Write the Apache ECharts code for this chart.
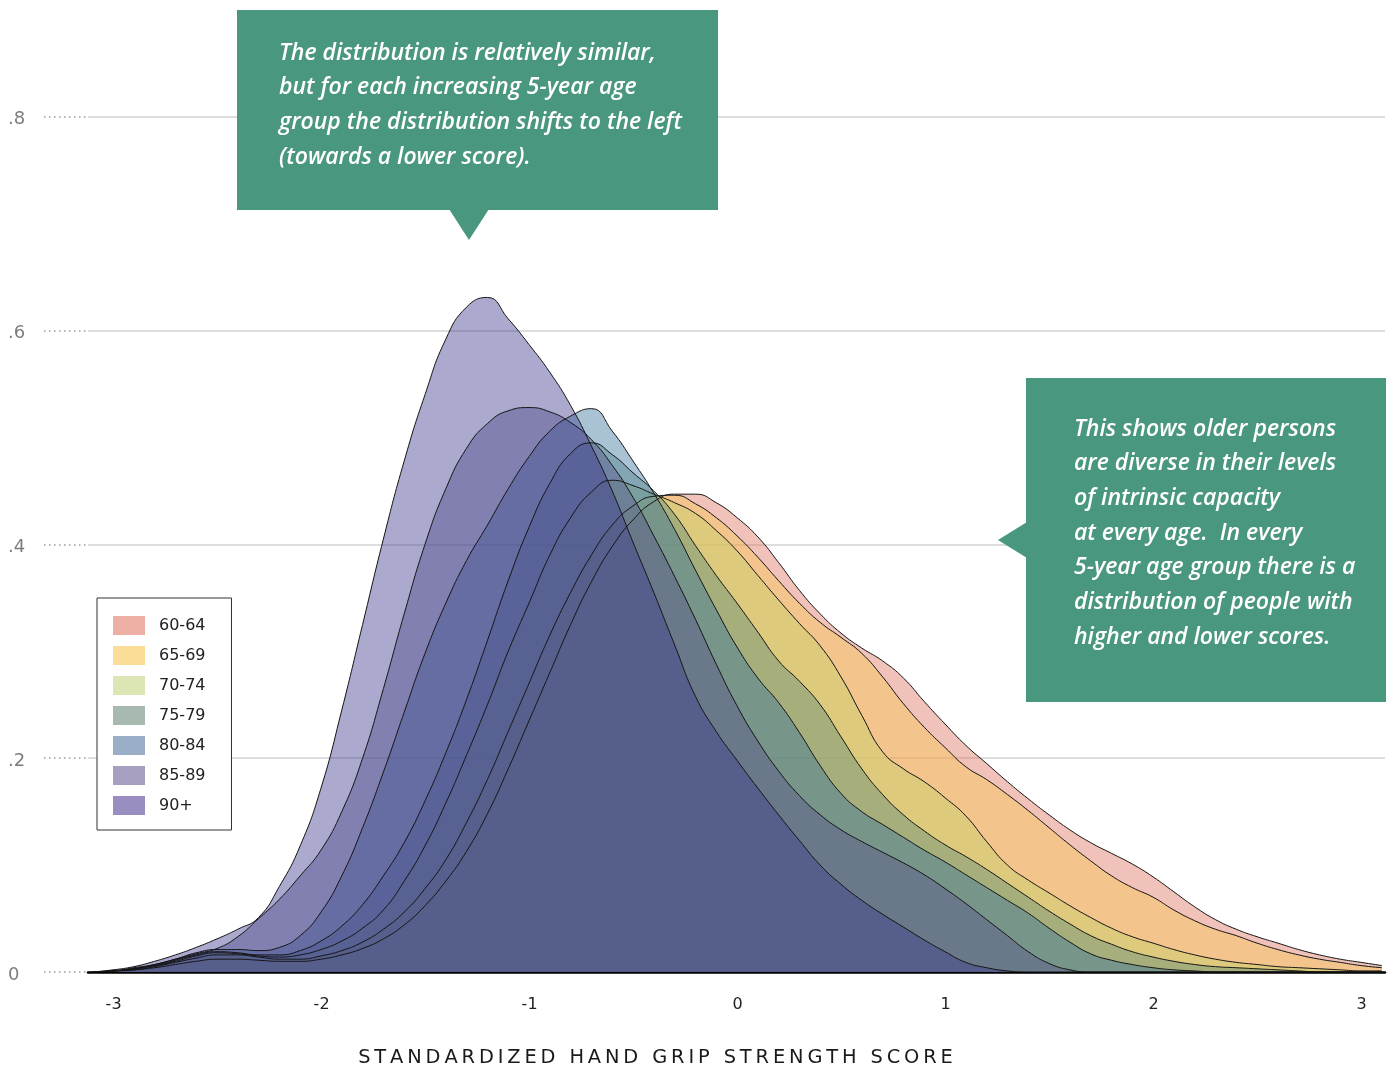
<!DOCTYPE html>
<html>
<head>
<meta charset="utf-8">
<script src="https://cdn.jsdelivr.net/npm/echarts@6/dist/echarts.min.js"></script>
<style>
html,body{margin:0;padding:0;background:#fff;}
#chart{width:1394px;height:1068px;}
</style>
</head>
<body>
<div id="chart"></div>
<script>
// ---- data ----
const scores = [-3.1,-3.0,-2.9,-2.8,-2.7,-2.6,-2.5,-2.4,-2.3,-2.2,-2.1,-2.0,-1.9,-1.8,-1.7,-1.6,-1.5,-1.4,-1.3,-1.2,-1.1,-1.0,-0.9,-0.8,-0.7,-0.6,-0.5,-0.4,-0.3,-0.2,-0.1,0.0,0.1,0.2,0.3,0.4,0.5,0.6,0.7,0.8,0.9,1.0,1.1,1.2,1.3,1.4,1.5,1.6,1.7,1.8,1.9,2.0,2.1,2.2,2.3,2.4,2.5,2.6,2.7,2.8,2.9,3.0,3.1];

const groups = ['60-64','65-69','70-74','75-79','80-84','85-89','90+'];

const age60_64 = [0,.001,.002,.004,.007,.010,.012,.012,.011,
  .010,.010,.012,.016,.022,.031,.044,.062,.085,.113,
  .148,.190,.235,.280,.325,.365,.398,.423,.440,.447,
  .447,.439,.425,.407,.383,.357,.335,.317,.303,.291,
  .275,.253,.232,.212,.195,.178,.162,.147,.133,.121,
  .111,.101,.089,.075,.061,.049,.040,.033,.027,.021,
  .016,.012,.009,.006];
const age65_69 = [0,.001,.002,.005,.009,.013,.016,.016,.014,
  .012,.012,.015,.020,.028,.040,.056,.078,.105,.140,
  .180,.225,.270,.315,.355,.390,.418,.436,.445,.446,
  .438,.425,.408,.388,.366,.345,.327,.313,.298,.276,
  .251,.229,.210,.192,.180,.166,.151,.135,.119,.104,
  .090,.079,.070,.058,.048,.040,.034,.027,.021,.016,
  .012,.009,.006,.004];
const age70_74 = [0,.001,.003,.006,.010,.015,.018,.017,.015,
  .014,.016,.021,.029,.041,.058,.085,.118,.158,.203,
  .250,.300,.345,.390,.425,.449,.460,.455,.447,.439,
  .429,.413,.394,.371,.348,.326,.305,.276,.240,.206,
  .190,.178,.163,.146,.122,.100,.086,.074,.062,.051,
  .041,.033,.027,.021,.016,.012,.009,.007,.005,.004,
  .003,.002,.001,.001];
const age75_79 = [0,.001,.003,.006,.011,.016,.019,.018,.016,
  .016,.020,.029,.043,.063,.090,.121,.160,.205,.255,
  .310,.366,.416,.457,.485,.495,.484,.467,.450,.428,
  .399,.371,.345,.318,.291,.272,.250,.220,.190,.166,
  .147,.132,.119,.108,.096,.083,.070,.057,.045,.034,
  .026,.019,.014,.010,.007,.005,.004,.003,.002,.001,
  0,0,0,0];
const age80_84 = [0,.001,.003,.007,.012,.018,.021,.021,.020,
  .023,.034,.056,.090,.135,.187,.243,.298,.345,.385,
  .418,.452,.482,.506,.520,.527,.506,.478,.448,.414,
  .376,.339,.304,.275,.252,.224,.193,.167,.150,.138,
  .126,.114,.103,.091,.079,.067,.055,.041,.028,.017,
  .011,.007,.004,.002,.001,0,0,0,0,0,
  0,0,0,0];
const age85_89 = [0,.001,.004,.007,.012,.017,.022,.033,.050,
  .068,.090,.114,.150,.200,.265,.335,.400,.452,.490,
  .513,.525,.528,.524,.514,.498,.474,.444,.408,.370,
  .330,.288,.249,.216,.188,.165,.147,.133,.122,.112,
  .102,.091,.078,.064,.049,.034,.019,.008,.002,0,
  0,0,0,0,0,0,0,0,0,0,
  0,0,0,0];
const age90plus = [0,.002,.005,.010,.016,.023,.031,.040,.051,
  .080,.118,.172,.245,.325,.405,.478,.540,.592,.622,
  .631,.611,.587,.561,.530,.492,.450,.402,.355,.306,
  .258,.225,.198,.172,.147,.123,.100,.082,.067,.054,
  .042,.030,.019,.009,.004,.001,0,0,0,0,
  0,0,0,0,0,0,0,0,0,0,
  0,0,0,0];

const xTickLabels = [-3,-2,-1,0,1,2,3];
const yTickLabels = ['0','.2','.4','.6','.8'];

const noteTop = ['The distribution is relatively similar,','but for each increasing 5-year age','group the distribution shifts to the left','(towards a lower score).'];
const noteRight = ['This shows older persons','are diverse in their levels','of intrinsic capacity','at every age.  In every','5-year age group there is a','distribution of people with','higher and lower scores.'];
const axisTitle = 'STANDARDIZED HAND GRIP STRENGTH SCORE';

// ---- styles ----
const densities = [age60_64, age65_69, age70_74, age75_79, age80_84, age85_89, age90plus];
const legendColors = ['#EEB0A5','#FCDD97','#DCE6B5','#A8BAB0','#9AAEC7','#A89FC0','#9A8DC2'];
const fillColors = ['#DC715E','#F9C74F','#C3D469','#5D887B','#3A749C','#5A568C','#3D398D'];
const BOX = '#4a977f';
const noteFont = {fill:'#ffffff', fontFamily:'"Open Sans"', fontSize:23, fontStyle:'italic', fontWeight:600, verticalAlign:'middle', align:'left'};

const chart = echarts.init(document.getElementById('chart'), null, {renderer:'canvas'});

const series = groups.map((g, i) => ({
  name: g,
  type: 'line',
  xAxisIndex: 1,
  yAxisIndex: 1,
  data: scores.map((x, j) => [x, densities[i][j]]),
  smooth: 0.5,
  symbol: 'none',
  showSymbol: false,
  itemStyle: {color: legendColors[i]},
  lineStyle: {color: '#151515', width: 1},
  areaStyle: {color: fillColors[i], opacity: 0.43},
  silent: true,
  z: 2
}));

const graphics = [];
graphics.push({type:'rect', z:100, shape:{x:237, y:10, width:481, height:200}, style:{fill:BOX}});
graphics.push({type:'polygon', z:100, shape:{points:[[449,209],[489,209],[469,240]]}, style:{fill:BOX}});
noteTop.forEach((t, i) => graphics.push({type:'text', z:101, x:279, y:53 + i*34.67, style:Object.assign({text:t}, noteFont)}));
graphics.push({type:'rect', z:100, shape:{x:1026, y:378, width:360, height:324}, style:{fill:BOX}});
graphics.push({type:'polygon', z:100, shape:{points:[[1027,522],[1027,558],[998,540]]}, style:{fill:BOX}});
noteRight.forEach((t, i) => graphics.push({type:'text', z:101, x:1074, y:429 + i*34.67, style:Object.assign({text:t}, noteFont)}));
graphics.push({type:'text', z:101, x:655.5, y:1058, style:{text: axisTitle.split('').join('\u2009'), fill:'#1a1a1a', fontFamily:'"DejaVu Sans"', fontSize:19.4, align:'center', verticalAlign:'middle'}});

const TOP = 116.8;
const option = {
  animation: false,
  backgroundColor: '#ffffff',
  grid: [
    {left:44, width:44, top:TOP, bottom:96},
    {left:88, right:9, top:TOP, bottom:96},
    {left:113.6, right:32.4, top:TOP, bottom:96},
    {left:44, width:44, top:TOP + 3, bottom:93}
  ],
  xAxis: [
    {gridIndex:0, type:'value', min:0, max:1, show:false},
    {gridIndex:1, type:'value', min:-3.12, max:3.115,
      axisLine:{show:true, onZero:true, lineStyle:{color:'#000', width:2.5}},
      axisTick:{show:false}, axisLabel:{show:false}, splitLine:{show:false}},
    {gridIndex:2, type:'value', min:-3, max:3, interval:1,
      axisLine:{show:false}, axisTick:{show:false}, splitLine:{show:false},
      axisLabel:{show:true, margin:25, fontFamily:'"DejaVu Sans"', fontSize:16, color:'#222',
        formatter: v => (xTickLabels.indexOf(v) >= 0 ? String(v) : '')}},
    {gridIndex:3, type:'value', min:0, max:1, show:false}
  ],
  yAxis: [
    {gridIndex:0, type:'value', min:0, max:0.8, interval:0.2,
      axisLine:{show:false}, axisTick:{show:false}, axisLabel:{show:false},
      splitLine:{show:true, lineStyle:{color:'#9a9a9a', width:1.5, type:[1.5,3.5]}}},
    {gridIndex:1, type:'value', min:0, max:0.8, interval:0.2,
      axisLine:{show:false}, axisTick:{show:false}, axisLabel:{show:false},
      splitLine:{show:true, lineStyle:{color:'#d2d2d2', width:1.5}}},
    {gridIndex:2, type:'value', min:0, max:0.8, show:false},
    {gridIndex:3, type:'value', min:0, max:0.8, interval:0.2,
      axisLine:{show:false}, axisTick:{show:false}, splitLine:{show:false},
      axisLabel:{show:true, align:'left', margin:36, fontFamily:'"DejaVu Sans"', fontSize:18, color:'#7d7d7d',
        formatter: v => { const k = Math.round(v*5); return k < yTickLabels.length ? yTickLabels[k] : ''; }}}
  ],
  legend: {
    orient:'vertical', left:97, top:598,
    padding:[18,26,15,16],
    itemWidth:32, itemHeight:19, itemGap:11,
    backgroundColor:'#ffffff', borderColor:'#333', borderWidth:1,
    icon:'rect', selectedMode:false,
    itemStyle:{borderWidth:0},
    textStyle:{fontFamily:'"DejaVu Sans"', fontSize:16, color:'#222', padding:[0,0,0,9]},
    data: groups.map((g, i) => ({name:g, itemStyle:{color:legendColors[i], borderWidth:0}}))
  },
  graphic: graphics,
  series: series
};
chart.setOption(option);
</script>
</body>
</html>
